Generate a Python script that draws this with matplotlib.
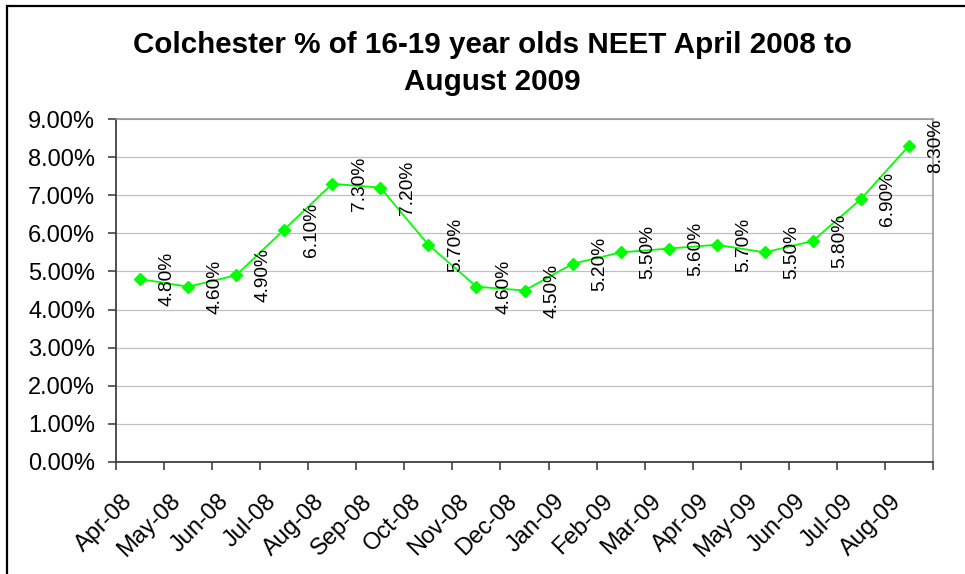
import matplotlib
matplotlib.use("Agg")
import matplotlib.pyplot as plt
import matplotlib.transforms as mtransforms
from matplotlib.patches import Rectangle
from matplotlib.ticker import FuncFormatter, FixedLocator, NullFormatter

months = ["Apr-08", "May-08", "Jun-08", "Jul-08", "Aug-08", "Sep-08", "Oct-08",
          "Nov-08", "Dec-08", "Jan-09", "Feb-09", "Mar-09", "Apr-09", "May-09",
          "Jun-09", "Jul-09", "Aug-09"]
neet_pct = [4.8, 4.6, 4.9, 6.1, 7.3, 7.2, 5.7, 4.6, 4.5, 5.2, 5.5, 5.6,
            5.7, 5.5, 5.8, 6.9, 8.3]
title_lines = ["Colchester % of 16-19 year olds NEET April 2008 to", "August 2009"]

plt.rcParams["font.family"] = ["Liberation Sans", "DejaVu Sans"]

W, H = 965, 574
fig = plt.figure(figsize=(W / 100, H / 100), dpi=100)
fig.patch.set_facecolor("white")

ax = fig.add_axes([116 / W, 1 - 462 / H, (933 - 116) / W, (462 - 119) / H])

x = list(range(len(months)))
ax.plot(x, neet_pct, color="#00ff00", lw=1.3, marker="D", markersize=6.5,
        markeredgecolor="#00ff00", markerfacecolor="#00ff00", zorder=3)

for xi, v in zip(x, neet_pct):
    ax.annotate(f"{v:.2f}%", (xi, v), xytext=(19.5, 0), textcoords="offset points",
                rotation=90, ha="center", va="center", fontsize=13.8, color="black",
                annotation_clip=False)

ax.set_xlim(-0.5, len(months) - 0.5)
ax.set_ylim(0, 9)
ax.yaxis.set_major_locator(FixedLocator(list(range(0, 10))))
ax.yaxis.set_major_formatter(FuncFormatter(lambda v, p: f"{v:.2f}%"))
ax.grid(axis="y", color="#c0c0c0", lw=0.9)
ax.set_axisbelow(True)

# category tick marks sit on the boundaries; month names are placed by hand
ax.set_xticks([i - 0.5 for i in range(len(months) + 1)])
ax.xaxis.set_major_formatter(NullFormatter())
ax.tick_params(axis="x", length=6, width=1.1, color="#333333", direction="out")
ax.tick_params(axis="y", length=6, width=1.1, color="#333333", pad=9,
               labelsize=17)

label_tf = ax.get_xaxis_transform() + mtransforms.ScaledTranslation(
    -11 / 100, -36 / 100, fig.dpi_scale_trans)
for xi, m in zip(x, months):
    ax.text(xi, 0, m, transform=label_tf, rotation=45, ha="right", va="center",
            rotation_mode="anchor", fontsize=17, clip_on=False)

ax.spines["left"].set_color("#404040")
ax.spines["bottom"].set_color("#404040")
ax.spines["left"].set_linewidth(1.3)
ax.spines["bottom"].set_linewidth(1.3)
ax.spines["top"].set_color("#909090")
ax.spines["right"].set_color("#909090")
ax.spines["top"].set_linewidth(1.1)
ax.spines["right"].set_linewidth(1.1)

fig.text(492 / W, 1 - 53 / H, title_lines[0], ha="center", va="baseline",
         fontsize=21.3, fontweight="bold")
fig.text(492 / W, 1 - 90 / H, title_lines[1], ha="center", va="baseline",
         fontsize=21.3, fontweight="bold")

fig.patches.append(Rectangle((7 / W, -0.2), 2, 1.2 - 6 / H, transform=fig.transFigure,
                             fill=False, ec="black", lw=1.6))

fig.savefig("out.png", dpi=100)
